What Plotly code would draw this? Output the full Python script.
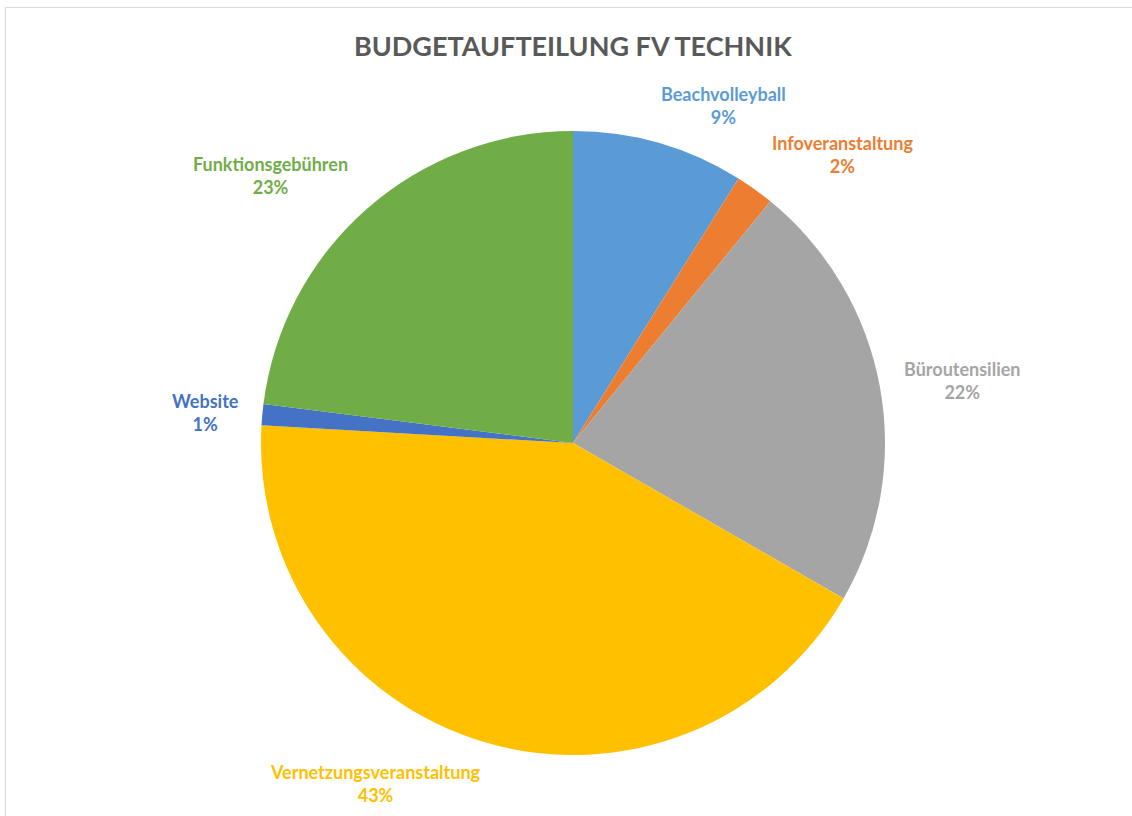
import plotly.graph_objects as go

categories = ["Beachvolleyball", "Infoveranstaltung", "Büroutensilien",
              "Vernetzungsveranstaltung", "Website", "Funktionsgebühren"]
values = [8.9, 2.0, 22.4, 42.6, 1.1, 23.0]
colors = ["#5B9BD5", "#ED7D31", "#A5A5A5", "#FFC000", "#4472C4", "#70AD47"]
# label anchor positions (pixels in 1132x816 canvas)
label_pos = [(723, 106), (842, 154), (962, 380), (375, 783), (205, 412), (270, 175)]

W, H = 1132, 816
cx, cy, r = 573, 443, 312

fig = go.Figure(go.Pie(
    labels=categories, values=values, sort=False, direction="clockwise",
    rotation=0, marker=dict(colors=colors, line=dict(width=0)),
    textinfo="none", hoverinfo="label+percent", showlegend=False,
    domain=dict(x=[(cx - r) / W, (cx + r) / W],
                y=[(H - cy - r) / H, (H - cy + r) / H]),
))

total = sum(values)
annotations = []
for name, v, c, (px, py) in zip(categories, values, colors, label_pos):
    annotations.append(dict(
        x=px / W, y=1 - py / H, xref="paper", yref="paper",
        text=f"<b>{name}<br>{round(v / total * 100)}%</b>",
        showarrow=False, xanchor="center", yanchor="middle", align="center",
        font=dict(family="Lato", size=18, color=c),
    ))
annotations.append(dict(
    x=573 / W, y=1 - 45 / H, xref="paper", yref="paper",
    text="<b>BUDGETAUFTEILUNG FV TECHNIK</b>", showarrow=False,
    xanchor="center", yanchor="middle",
    font=dict(family="Lato", size=27, color="#595959"),
))

fig.update_layout(
    width=W, height=H, margin=dict(l=0, r=0, t=0, b=0),
    paper_bgcolor="white", plot_bgcolor="white",
    annotations=annotations,
    shapes=[dict(type="rect", xref="paper", yref="paper",
                 x0=5.5 / W, x1=1.05, y0=-0.05, y1=1 - 7.5 / H,
                 line=dict(color="#D9D9D9", width=1))],
)

fig.write_html("out.html", config={"displayModeBar": False},
               post_script="document.body.style.margin='0px';")
